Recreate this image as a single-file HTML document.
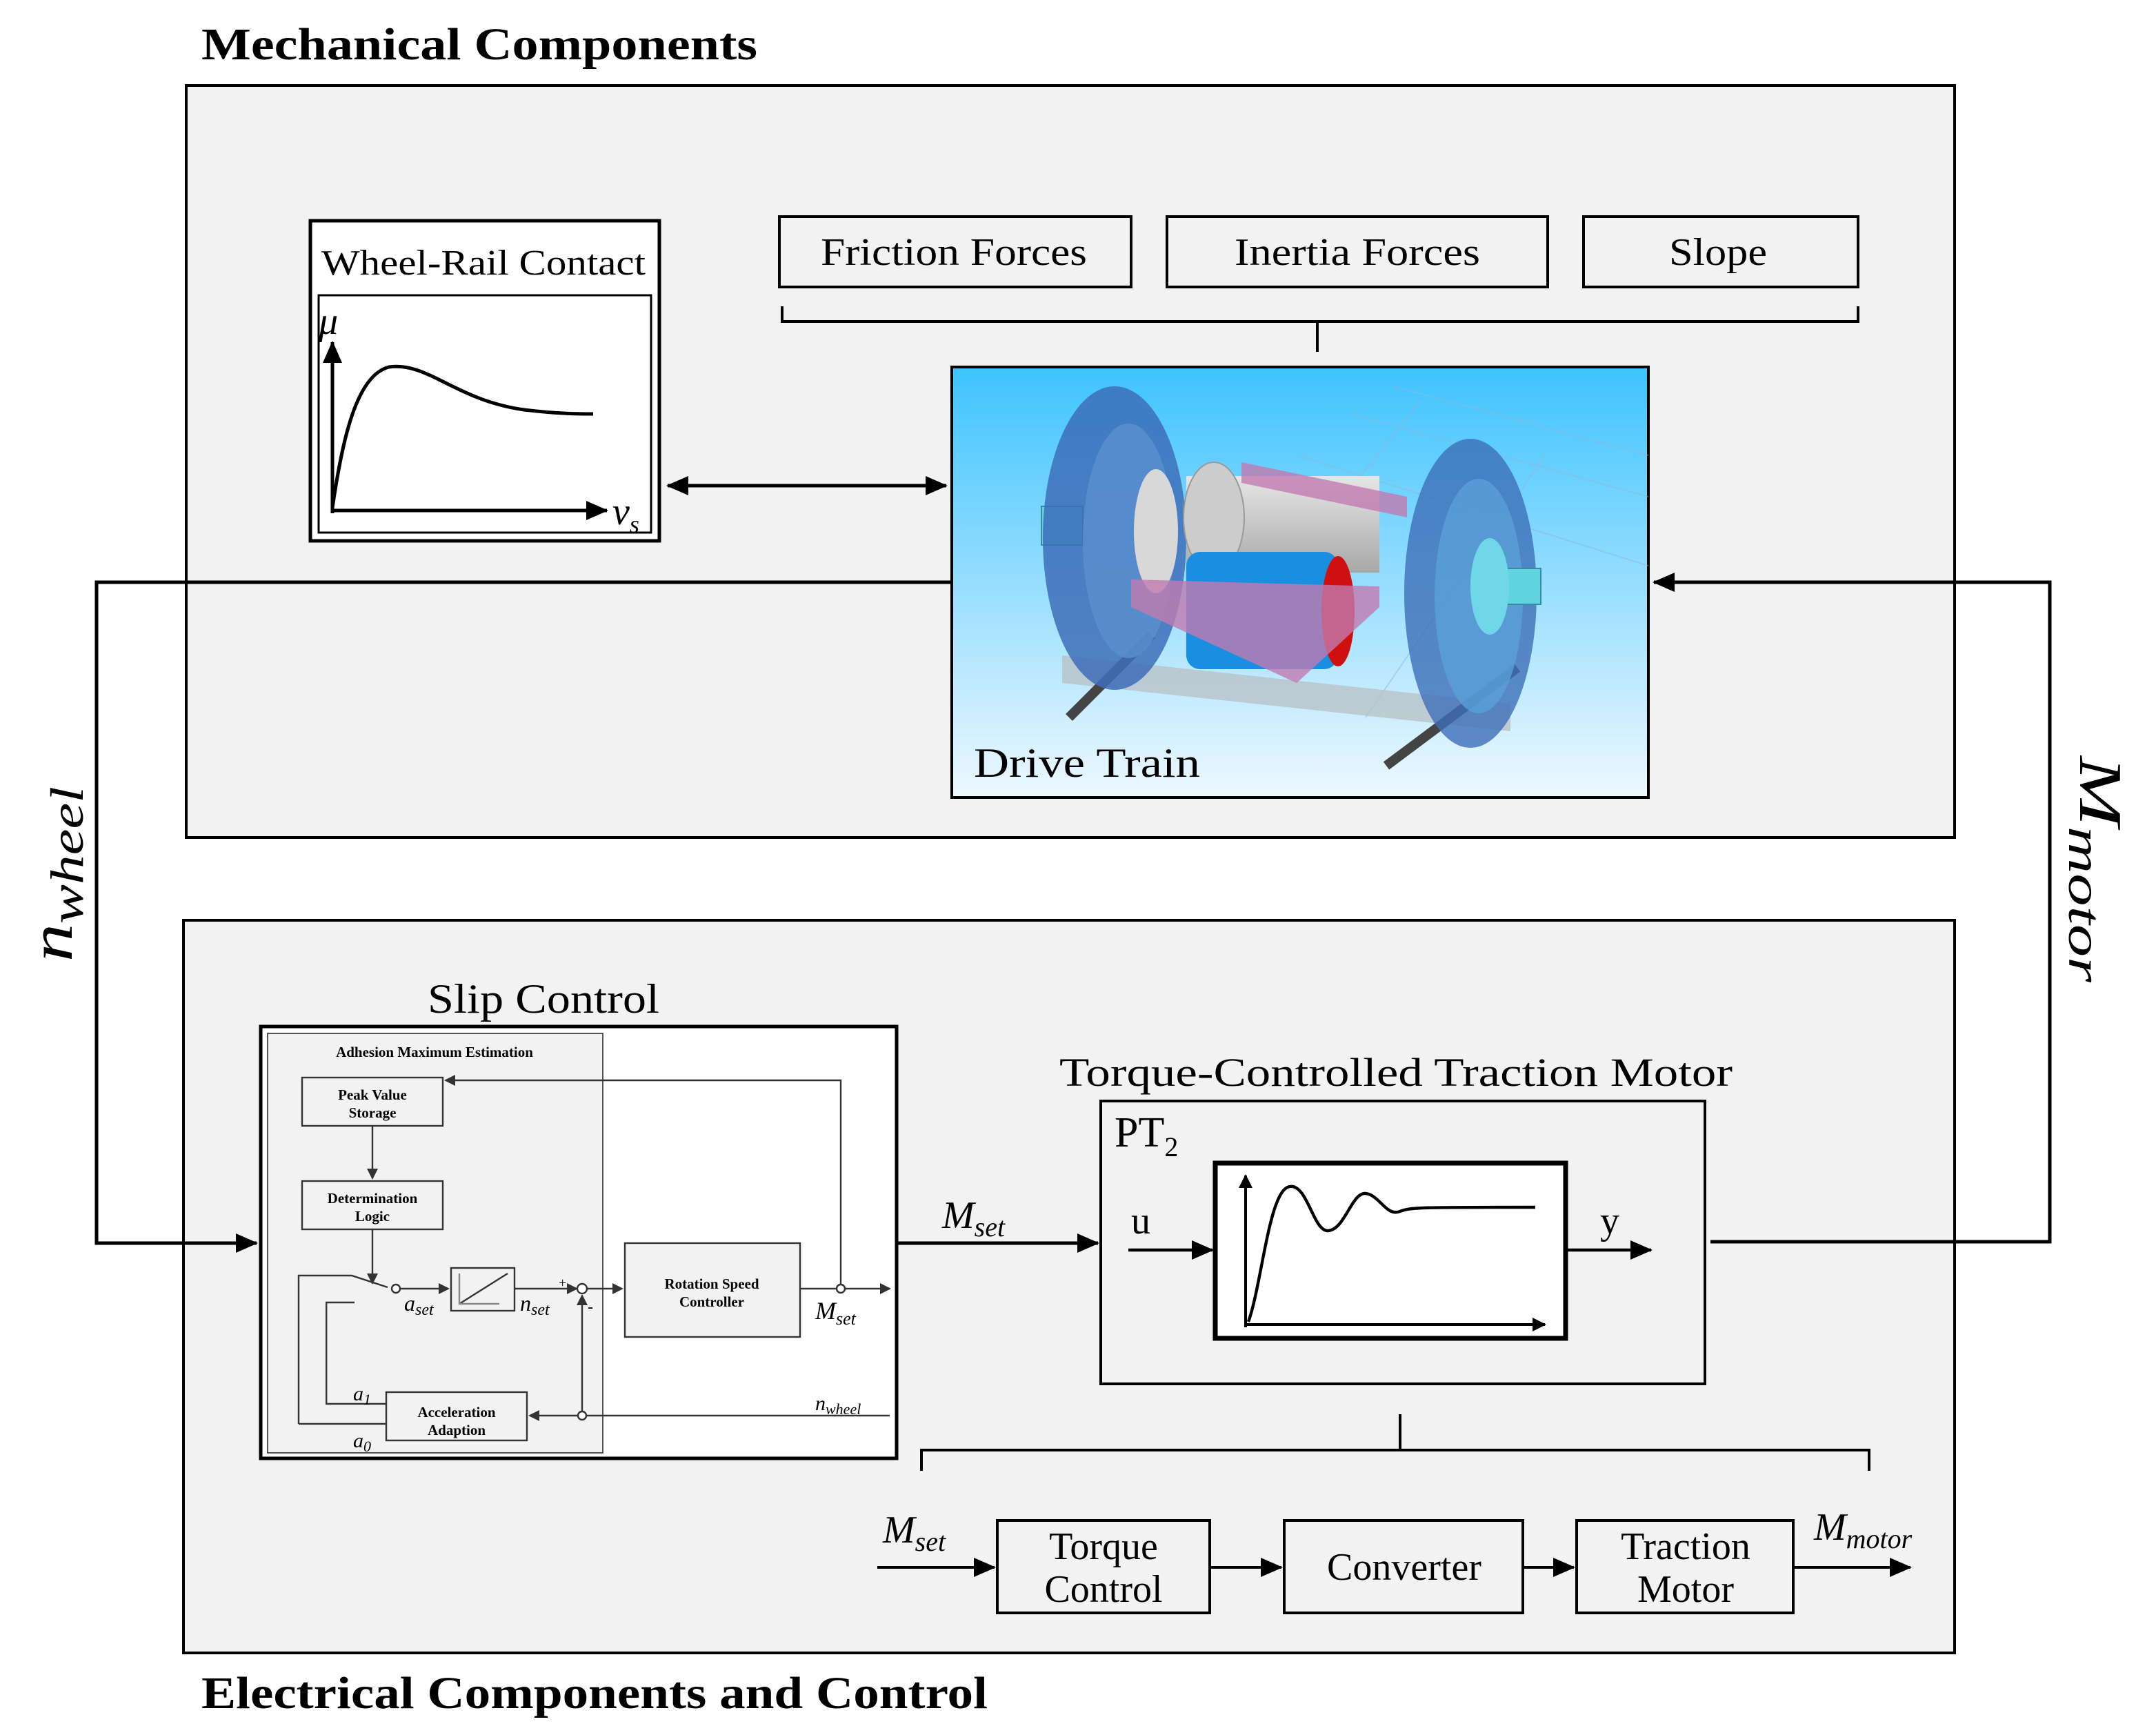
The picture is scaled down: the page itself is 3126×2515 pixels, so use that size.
<!DOCTYPE html>
<html><head><meta charset="utf-8"><style>
html,body{margin:0;padding:0;background:#fff;}
svg{display:block;}
text{font-family:"Liberation Serif",serif;fill:#000;}
.b{font-weight:bold;}
.i{font-style:italic;}
</style></head><body>
<svg width="3126" height="2515" viewBox="0 0 1563 1257.5" xmlns="http://www.w3.org/2000/svg">
<defs>
<marker id="ar" markerWidth="10" markerHeight="10" refX="9" refY="5" orient="auto" markerUnits="userSpaceOnUse"><path d="M0,0 L10,5 L0,10 z" fill="#000"/></marker>
<marker id="ar2" markerWidth="16" markerHeight="14" refX="15" refY="7" orient="auto" markerUnits="userSpaceOnUse"><path d="M0,0 L16,7 L0,14 z" fill="#000"/></marker>
<marker id="ar2s" markerWidth="16" markerHeight="14" refX="1" refY="7" orient="auto" markerUnits="userSpaceOnUse"><path d="M16,0 L0,7 L16,14 z" fill="#000"/></marker>
<marker id="ars" markerWidth="8" markerHeight="8" refX="7" refY="4" orient="auto" markerUnits="userSpaceOnUse"><path d="M0,0 L8,4 L0,8 z" fill="#333"/></marker>
<linearGradient id="sky" x1="0" y1="0" x2="0" y2="1"><stop offset="0" stop-color="#3ec3ff"/><stop offset="1" stop-color="#eef8ff"/></linearGradient>
<linearGradient id="cyl" x1="0" y1="0" x2="0" y2="1"><stop offset="0" stop-color="#e6e6e6"/><stop offset="1" stop-color="#a8a8a8"/></linearGradient>
<clipPath id="dt"><rect x="690" y="266" width="505" height="312"/></clipPath>
</defs>

<text x="146" y="43" font-size="33" class="b" textLength="403" lengthAdjust="spacingAndGlyphs">Mechanical Components</text>
<rect x="135" y="62" width="1282" height="545" fill="#f2f2f2" stroke="#000" stroke-width="2"/>

<rect x="225" y="160" width="253" height="232" fill="#fff" stroke="#000" stroke-width="2.5"/>
<text x="233" y="199" font-size="26" textLength="235" lengthAdjust="spacingAndGlyphs">Wheel-Rail Contact</text>
<rect x="231" y="214" width="241" height="172" fill="#fff" stroke="#000" stroke-width="1.5"/>
<line x1="241" y1="372" x2="241" y2="248" stroke="#000" stroke-width="2.5" marker-end="url(#ar2)"/>
<line x1="240" y1="370" x2="440" y2="370" stroke="#000" stroke-width="2.5" marker-end="url(#ar2)"/>
<path d="M241,368 C248,320 258,272 282,266 C310,262 330,290 380,297 C405,300 420,300 430,300" fill="none" stroke="#000" stroke-width="2.5"/>
<text x="231" y="242" font-size="28" class="i">μ</text>
<text x="444" y="380" font-size="28" class="i">v<tspan font-size="18" dy="6">s</tspan></text>

<rect x="565" y="157" width="255" height="51" fill="#f2f2f2" stroke="#000" stroke-width="2"/>
<text x="595" y="192" font-size="28" textLength="193" lengthAdjust="spacingAndGlyphs">Friction Forces</text>
<rect x="846" y="157" width="276" height="51" fill="#f2f2f2" stroke="#000" stroke-width="2"/>
<text x="895" y="192" font-size="28" textLength="178" lengthAdjust="spacingAndGlyphs">Inertia Forces</text>
<rect x="1148" y="157" width="199" height="51" fill="#f2f2f2" stroke="#000" stroke-width="2"/>
<text x="1210" y="192" font-size="28" textLength="71" lengthAdjust="spacingAndGlyphs">Slope</text>
<path d="M567,222 V233 H1347 V222 M955,233 V255" fill="none" stroke="#000" stroke-width="2"/>

<rect x="690" y="266" width="505" height="312" fill="url(#sky)" stroke="#000" stroke-width="2"/>
<g clip-path="url(#dt)">
<g opacity="0.5" stroke="#8fb8d8" stroke-width="1" fill="none">
<path d="M1010,280 L1195,330 M980,300 L1195,360 M940,330 L1195,410 M1030,290 L880,480 M1120,330 L990,520"/>
</g>
<polygon points="770,475 1095,510 1095,530 770,495" fill="#b9c2c8" opacity="0.8"/>
<line x1="775" y1="520" x2="835" y2="460" stroke="#444" stroke-width="7"/>
<line x1="1005" y1="555" x2="1100" y2="484" stroke="#444" stroke-width="7"/>
<rect x="755" y="367" width="30" height="28" fill="#5fd4e0" stroke="#3a8aa0"/>
<ellipse cx="808" cy="390" rx="52" ry="110" fill="#3d6fb8" opacity="0.85"/>
<ellipse cx="818" cy="392" rx="33" ry="85" fill="#5a90cf" opacity="0.8"/>
<ellipse cx="838" cy="385" rx="16" ry="45" fill="#d8d8d8"/>
<rect x="860" y="345" width="140" height="70" fill="url(#cyl)"/>
<ellipse cx="880" cy="375" rx="22" ry="40" fill="#ccc" stroke="#999"/>
<path d="M900,335 L1020,360 L1020,375 L900,350 z" fill="#c07ab0" opacity="0.8"/>
<rect x="860" y="400" width="110" height="85" rx="10" fill="#1a8ee0"/>
<ellipse cx="970" cy="443" rx="12" ry="40" fill="#d01010"/>
<path d="M820,420 L1000,425 L1000,440 L940,495 L820,440 z" fill="#c07ab0" opacity="0.8"/>
<ellipse cx="1066" cy="430" rx="48" ry="112" fill="#3d6fb8" opacity="0.8"/>
<ellipse cx="1072" cy="432" rx="32" ry="85" fill="#5aa0d8" opacity="0.8"/>
<rect x="1075" y="412" width="42" height="26" fill="#5fd4e0" stroke="#3a8aa0"/>
<ellipse cx="1080" cy="425" rx="14" ry="35" fill="#6fd7e8"/>
</g>
<text x="706" y="563" font-size="30" textLength="164" lengthAdjust="spacingAndGlyphs">Drive Train</text>

<line x1="484" y1="352" x2="686" y2="352" stroke="#000" stroke-width="2.5" marker-start="url(#ar2s)" marker-end="url(#ar2)"/>

<rect x="133" y="667" width="1284" height="531" fill="#f2f2f2" stroke="#000" stroke-width="2"/>
<text x="146" y="1238" font-size="33" class="b" textLength="570" lengthAdjust="spacingAndGlyphs">Electrical Components and Control</text>

<path d="M690,422 H70 V901 H186" fill="none" stroke="#000" stroke-width="2.5" marker-end="url(#ar2)"/>
<path d="M1240,900 H1486 V422 H1199" fill="none" stroke="#000" stroke-width="2.5" marker-end="url(#ar2)"/>
<text transform="translate(52,697) rotate(-90)" font-size="44" class="i" textLength="127" lengthAdjust="spacingAndGlyphs">n<tspan font-size="34" dy="8">wheel</tspan></text>
<text transform="translate(1508,548) rotate(90)" font-size="44" class="i" textLength="164" lengthAdjust="spacingAndGlyphs">M<tspan font-size="34" dy="8">motor</tspan></text>

<text x="310" y="734" font-size="30" textLength="168" lengthAdjust="spacingAndGlyphs">Slip Control</text>
<rect x="189" y="744" width="461" height="313" fill="#fff" stroke="#000" stroke-width="2.5"/>
<rect x="194" y="749" width="243" height="304" fill="#f2f2f2" stroke="#555" stroke-width="1"/>
<text x="315" y="766" font-size="10.5" class="b" text-anchor="middle">Adhesion Maximum Estimation</text>
<g stroke="#333" stroke-width="1.2" fill="none">
<rect x="219" y="781" width="102" height="35" fill="#f2f2f2"/>
<rect x="219" y="856" width="102" height="35" fill="#f2f2f2"/>
<rect x="327" y="919" width="46" height="31" fill="#f2f2f2"/>
<rect x="453" y="901" width="127" height="68" fill="#f2f2f2"/>
<rect x="280" y="1009" width="102" height="35" fill="#f2f2f2"/>
<line x1="270" y1="816" x2="270" y2="854" marker-end="url(#ars)"/>
<line x1="270" y1="891" x2="270" y2="930" marker-end="url(#ars)"/>
<path d="M216.5,1032 V924.5 H255 L281,933"/>
<path d="M257,944 H236.6 V1017.5 H280"/>
<path d="M216.5,1032 H280"/>
<line x1="289" y1="934" x2="325" y2="934" marker-end="url(#ars)"/>
<path d="M333,945 L368,923"/>
<path d="M333,923 V945 H362" stroke="#888"/>
<line x1="373" y1="934" x2="418" y2="934" marker-end="url(#ars)"/>
<line x1="426" y1="934" x2="451" y2="934" marker-end="url(#ars)"/>
<line x1="580" y1="934" x2="606" y2="934"/>
<line x1="613" y1="934" x2="645" y2="934" marker-end="url(#ars)"/>
<path d="M609.5,931 V783 H323" marker-end="url(#ars)"/>
<line x1="645" y1="1026" x2="384" y2="1026" marker-end="url(#ars)"/>
<line x1="422" y1="1023" x2="422" y2="939" marker-end="url(#ars)"/>
<circle cx="287" cy="934" r="3" fill="#fff"/>
<circle cx="422" cy="934" r="3.5" fill="#fff"/>
<circle cx="609.5" cy="934" r="3" fill="#fff"/>
<circle cx="422" cy="1026" r="3" fill="#fff"/>
</g>
<text x="270" y="797" font-size="10.5" class="b" text-anchor="middle">Peak Value</text>
<text x="270" y="810" font-size="10.5" class="b" text-anchor="middle">Storage</text>
<text x="270" y="872" font-size="10.5" class="b" text-anchor="middle">Determination</text>
<text x="270" y="885" font-size="10.5" class="b" text-anchor="middle">Logic</text>
<text x="516" y="934" font-size="10.5" class="b" text-anchor="middle">Rotation Speed</text>
<text x="516" y="947" font-size="10.5" class="b" text-anchor="middle">Controller</text>
<text x="331" y="1027" font-size="10.5" class="b" text-anchor="middle">Acceleration</text>
<text x="331" y="1040" font-size="10.5" class="b" text-anchor="middle">Adaption</text>
<text x="293" y="950" font-size="16" class="i">a<tspan font-size="12" dy="3">set</tspan></text>
<text x="377" y="950" font-size="16" class="i">n<tspan font-size="12" dy="3">set</tspan></text>
<text x="591" y="956" font-size="18" class="i">M<tspan font-size="13" dy="4">set</tspan></text>
<text x="591" y="1022" font-size="15" class="i">n<tspan font-size="11" dy="3">wheel</tspan></text>
<text x="256" y="1015" font-size="15" class="i">a<tspan font-size="11" dy="3">1</tspan></text>
<text x="256" y="1049" font-size="15" class="i">a<tspan font-size="11" dy="3">0</tspan></text>
<text x="405" y="933" font-size="10">+</text>
<text x="426" y="951" font-size="12">-</text>

<line x1="650" y1="901" x2="796" y2="901" stroke="#000" stroke-width="2.5" marker-end="url(#ar2)"/>
<text x="683" y="890" font-size="28" class="i">M<tspan font-size="20" dy="6">set</tspan></text>

<text x="768" y="787" font-size="29" textLength="488" lengthAdjust="spacingAndGlyphs">Torque-Controlled Traction Motor</text>
<rect x="798" y="798" width="438" height="205" fill="#f2f2f2" stroke="#000" stroke-width="2"/>
<text x="808" y="831" font-size="31">PT<tspan font-size="20" dy="7">2</tspan></text>
<rect x="881" y="843" width="254" height="127" fill="#fff" stroke="#000" stroke-width="3.5"/>
<line x1="903" y1="962" x2="903" y2="852" stroke="#000" stroke-width="2" marker-end="url(#ar)"/>
<line x1="902" y1="960" x2="1120" y2="960" stroke="#000" stroke-width="2" marker-end="url(#ar)"/>
<path d="M905,958 C915,930 920,862 935,860 C948,858 952,893 963,892 C975,891 980,864 990,865 C1000,866 1005,882 1015,878 C1022,875 1030,875 1113,875" fill="none" stroke="#000" stroke-width="2.2"/>
<line x1="818" y1="906" x2="879" y2="906" stroke="#000" stroke-width="2.2" marker-end="url(#ar2)"/>
<text x="820" y="894" font-size="28">u</text>
<line x1="1135" y1="906" x2="1197" y2="906" stroke="#000" stroke-width="2.2" marker-end="url(#ar2)"/>
<text x="1160" y="894" font-size="28">y</text>
<path d="M668,1066 V1051 H1355 V1066 M1015,1051 V1025" fill="none" stroke="#000" stroke-width="2"/>

<text x="640" y="1118" font-size="28" class="i">M<tspan font-size="20" dy="6">set</tspan></text>
<line x1="636" y1="1136" x2="721" y2="1136" stroke="#000" stroke-width="2" marker-end="url(#ar2)"/>
<rect x="723" y="1102" width="154" height="67" fill="#f2f2f2" stroke="#000" stroke-width="2"/>
<text x="800" y="1130" font-size="28" text-anchor="middle">Torque</text>
<text x="800" y="1161" font-size="28" text-anchor="middle">Control</text>
<line x1="877" y1="1136" x2="929" y2="1136" stroke="#000" stroke-width="2" marker-end="url(#ar2)"/>
<rect x="931" y="1102" width="173" height="67" fill="#f2f2f2" stroke="#000" stroke-width="2"/>
<text x="1018" y="1145" font-size="28" text-anchor="middle">Converter</text>
<line x1="1104" y1="1136" x2="1141" y2="1136" stroke="#000" stroke-width="2" marker-end="url(#ar2)"/>
<rect x="1143" y="1102" width="157" height="67" fill="#f2f2f2" stroke="#000" stroke-width="2"/>
<text x="1222" y="1130" font-size="28" text-anchor="middle">Traction</text>
<text x="1222" y="1161" font-size="28" text-anchor="middle">Motor</text>
<line x1="1300" y1="1136" x2="1385" y2="1136" stroke="#000" stroke-width="2" marker-end="url(#ar2)"/>
<text x="1315" y="1116" font-size="28" class="i">M<tspan font-size="20" dy="6">motor</tspan></text>
</svg>
</body></html>
